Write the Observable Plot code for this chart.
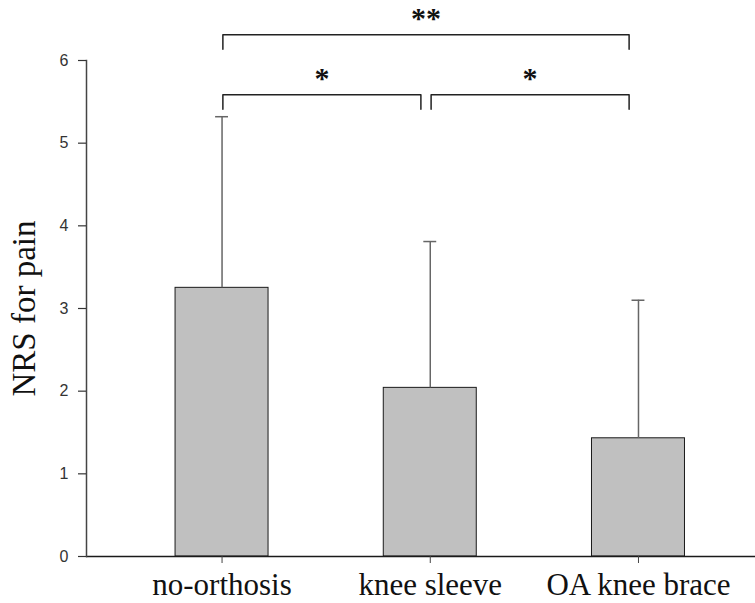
<!DOCTYPE html>
<html>
<head>
<meta charset="utf-8">
<script src="https://cdn.jsdelivr.net/npm/d3@7"></script>
<script src="https://cdn.jsdelivr.net/npm/@observablehq/plot@0.6"></script>
<style>
  html, body { margin: 0; padding: 0; background: #fff; }
  #chart svg { display: block; }
</style>
</head>
<body>
<div id="chart"></div>
<script>
// ---- data ----
const categories = ["no-orthosis", "knee sleeve", "OA knee brace"];
const means = [3.25, 2.04, 1.43];
const sds = [2.07, 1.77, 1.67];
const yTicks = [0, 1, 2, 3, 4, 5, 6];
const yLabel = "NRS for pain";

// significance comparisons (category indices)
const bracketFrom = [0, 1, 0];
const bracketTo = [1, 2, 2];
const bracketLevel = [5.585, 5.585, 6.31];
const bracketLabels = ["*", "*", "**"];

// ---- geometry / style options ----
const barHalf = 0.2233;
const capHalf = 0.031;
const tickDrop = 0.175;
const endInset = 0.045;
const SERIF = "Liberation Serif";
const SANS = "Liberation Sans";

const rows = categories.map((c, i) => ({i, c, mean: means[i], upper: means[i] + sds[i]}));

const brackets = bracketFrom.map((f, k) => ({
  k, x1: f + 0.004, x2: bracketTo[k] - endInset, y: bracketLevel[k], label: bracketLabels[k]
}));
const bracketPts = brackets.flatMap(b => [
  {k: b.k, x: b.x1, y: b.y - tickDrop},
  {k: b.k, x: b.x1, y: b.y},
  {k: b.k, x: b.x2, y: b.y},
  {k: b.k, x: b.x2, y: b.y - tickDrop}
]);

const chart = Plot.plot({
  width: 755,
  height: 603,
  marginLeft: 86,
  marginRight: 0,
  marginTop: 60,
  marginBottom: 47,
  style: {background: "#fff", overflow: "visible"},
  x: {type: "linear", domain: [-0.651, 2.562]},
  y: {domain: [0, 6]},
  marks: [
    Plot.rectY(rows, {
      x1: d => d.i - barHalf, x2: d => d.i + barHalf, y: "mean",
      fill: "#c0c0c0", stroke: "#1a1a1a", strokeWidth: 1
    }),
    Plot.ruleX(rows, {x: "i", y1: "mean", y2: "upper", stroke: "#666", strokeWidth: 1.5}),
    Plot.ruleY(rows, {y: "upper", x1: d => d.i - capHalf, x2: d => d.i + capHalf, stroke: "#666", strokeWidth: 1.5}),
    Plot.ruleY([0], {stroke: "#1a1a1a", strokeWidth: 1.5}),
    Plot.frame({anchor: "left", stroke: "#444", strokeWidth: 1.5}),
    Plot.axisY({
      ticks: yTicks, tickFormat: d => String(d), tickSize: 8, tickPadding: 10, fontSize: 16,
      fontFamily: SANS, label: null, color: "#333", strokeWidth: 1.2
    }),
    Plot.axisX({
      ticks: [0, 1, 2], tickFormat: i => categories[i], tickSize: 7, tickPadding: 9,
      fontSize: 31, fontFamily: SERIF, label: null, color: "#111", stroke: "#444"
    }),
    Plot.line(bracketPts, {x: "x", y: "y", z: "k", stroke: "#222", strokeWidth: 1.5, strokeLinejoin: "round"}),
    Plot.text(brackets, {
      x: d => (d.x1 + d.x2) / 2, y: "y", text: "label", dy: -16,
      fontSize: 30, fontWeight: "bold", fontFamily: SERIF, fill: "#111"
    }),
    Plot.text([yLabel], {
      frameAnchor: "left", textAnchor: "middle", dx: -62, rotate: -90,
      fontSize: 33, fontFamily: SERIF, fill: "#111"
    })
  ]
});
// make sure the serif face reaches the rotated title and the stars
chart.querySelectorAll("text").forEach(t => {
  const s = t.textContent;
  if (s === yLabel || bracketLabels.includes(s)) {
    t.setAttribute("font-family", SERIF);
    t.style.fontFamily = SERIF;
  }
});
document.getElementById("chart").append(chart);
</script>
</body>
</html>
